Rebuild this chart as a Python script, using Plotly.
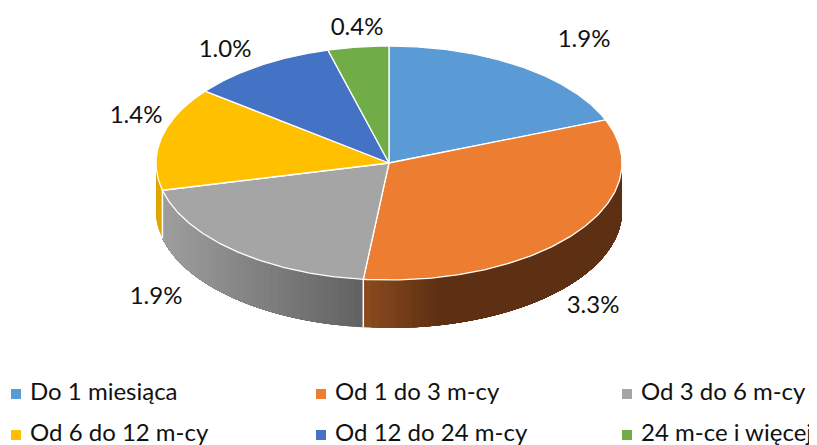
import numpy as np
import plotly.graph_objects as go

categories = ["Do 1 miesiąca", "Od 1 do 3 m-cy", "Od 3 do 6 m-cy",
              "Od 6 do 12 m-cy", "Od 12 do 24 m-cy", "24 m-ce i więcej"]
# values; labels show them rounded to one decimal
values = [1.89, 3.26, 1.94, 1.42, 1.02, 0.42]
colors = ["#5B9BD5", "#ED7D31", "#A5A5A5", "#FFC000", "#4472C4", "#70AD47"]

# layout constants (pixels in the 817x445 window)
CX, CY, RX, RY, DEPTH = 389, 163, 233, 117, 48
label_xy = [(584, 41), (593, 307), (156, 298), (136, 117), (225, 51), (357, 29)]
legend_xy = [(16, 394), (321, 394), (627, 394), (16, 435), (321, 435), (627, 435)]
FONT = "Lato"
FS_LABEL = 24
FS_LEGEND = 24
PAGE_OFFSET = 8  # default body margin of the page


def ex(t):
    return CX + RX * np.sin(t)


def ey(t):
    return CY - RY * np.cos(t)


def mix(c1, c2, f):
    f = float(np.clip(f, 0, 1))
    return "rgb(%d,%d,%d)" % tuple(round(a + (b - a) * f) for a, b in zip(c1, c2))


def side_color(i, x):
    if i == 1:
        return mix((0x8C, 0x4C, 0x1E), (0x5E, 0x30, 0x13), (x - 363) / 75)
    if i == 2:
        return mix((0x9E, 0x9E, 0x9E), (0x62, 0x62, 0x62), (x - 163) / 197)
    return "#DFA500"


fig = go.Figure()
fracs = np.array(values) / sum(values)
edges = np.concatenate([[0], np.cumsum(fracs)]) * 2 * np.pi

# side walls: each band reaches to the end of its slice, later bands paint over earlier ones
for i in range(len(values)):
    a = max(edges[i], np.pi / 2)
    b = min(edges[i + 1], 3 * np.pi / 2)
    if b <= a:
        continue
    n = max(2, int(np.degrees(b - a) / 2))
    ts = np.linspace(a, b, n + 1)
    if i == 1:  # orange gets darker from its left end, paint from that end
        ts = ts[::-1]
    end = ts[-1]
    for t0, t1 in zip(ts[:-1], ts[1:]):
        tt = np.linspace(t0, end, max(4, int(abs(end - t0) * 40)))
        xs = np.concatenate([ex(tt), ex(tt[::-1])])
        ys = np.concatenate([ey(tt), ey(tt[::-1]) + DEPTH])
        c = side_color(i, ex((t0 + t1) / 2))
        fig.add_trace(go.Scatter(x=xs, y=ys, mode="none", fill="toself", fillcolor=c,
                                 hoverinfo="skip", showlegend=False))

# white seams between wall segments
for i in range(len(values) - 1):
    t = edges[i + 1]
    if np.pi / 2 < t < 3 * np.pi / 2:
        fig.add_trace(go.Scatter(x=[ex(t), ex(t)], y=[ey(t), ey(t) + DEPTH], mode="lines",
                                 line=dict(color="white", width=1.5), hoverinfo="skip",
                                 showlegend=False))

# top slices
for i, (v, c) in enumerate(zip(values, colors)):
    tt = np.linspace(edges[i], edges[i + 1], 120)
    xs = np.concatenate([[CX], ex(tt), [CX]])
    ys = np.concatenate([[CY], ey(tt), [CY]])
    fig.add_trace(go.Scatter(x=xs, y=ys, mode="lines", fill="toself", fillcolor=c,
                             line=dict(color="white", width=1.3), name=categories[i],
                             hoverinfo="name", showlegend=False))

# data labels
fig.add_trace(go.Scatter(x=[p[0] for p in label_xy], y=[p[1] for p in label_xy], mode="text",
                         text=[f"{v:.1f}%" for v in values],
                         textfont=dict(family=FONT, size=FS_LABEL, color="#111111"),
                         textposition="middle center", hoverinfo="skip", showlegend=False))

# legend
fig.add_trace(go.Scatter(x=[p[0] for p in legend_xy], y=[p[1] for p in legend_xy], mode="markers",
                         marker=dict(symbol="square", size=10, color=colors),
                         hoverinfo="skip", showlegend=False))
fig.add_trace(go.Scatter(x=[p[0] + 14 for p in legend_xy], y=[p[1] for p in legend_xy], mode="text",
                         text=categories, cliponaxis=False,
                         textfont=dict(family=FONT, size=FS_LEGEND, color="#111111"),
                         textposition="middle right", hoverinfo="skip", showlegend=False))

fig.update_layout(
    width=817 - PAGE_OFFSET, height=445 - PAGE_OFFSET, margin=dict(l=0, r=0, t=0, b=0),
    paper_bgcolor="white", plot_bgcolor="white", showlegend=False,
    xaxis=dict(range=[PAGE_OFFSET, 817], visible=False, fixedrange=True),
    yaxis=dict(range=[445, PAGE_OFFSET], visible=False, fixedrange=True),
)
fig.write_html("out.html", config=dict(displayModeBar=False))
